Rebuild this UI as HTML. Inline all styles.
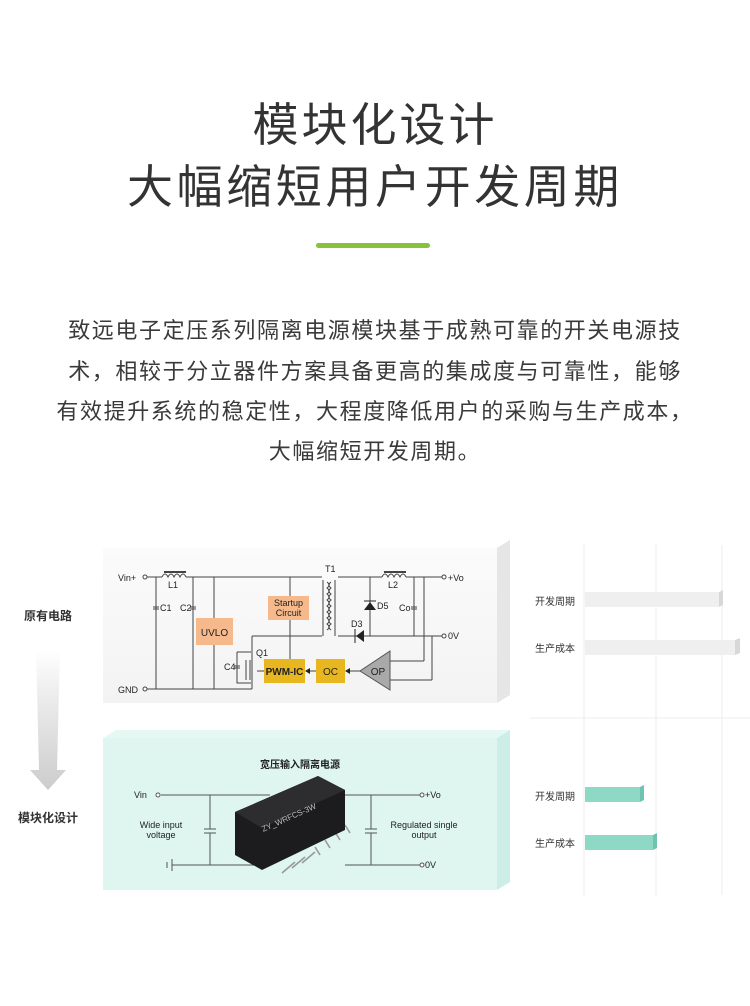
<!DOCTYPE html>
<html><head><meta charset="utf-8">
<style>
html,body{margin:0;padding:0;background:#fff;}
body{width:750px;height:1006px;position:relative;overflow:hidden;font-family:"Liberation Sans","Noto Sans CJK SC",sans-serif;color:#333;}
.t{position:absolute;left:0;width:750px;text-align:center;white-space:nowrap;}
.h{font-size:46px;letter-spacing:3px;color:#333;line-height:1;}
.p{font-size:22px;letter-spacing:1.6px;color:#3a3a3a;line-height:1;}
</style></head><body>
<div class="t h" style="top:102px;">模块化设计</div>
<div class="t h" style="top:164px;letter-spacing:3.6px;">大幅缩短用户开发周期</div>
<div style="position:absolute;left:316px;top:243px;width:114px;height:5px;border-radius:3px;background:#86c23a;"></div>
<div class="t p" style="top:320px;">致远电子定压系列隔离电源模块基于成熟可靠的开关电源技</div>
<div class="t p" style="top:361px;">术，相较于分立器件方案具备更高的集成度与可靠性，能够</div>
<div class="t p" style="top:401px;">有效提升系统的稳定性，大程度降低用户的采购与生产成本，</div>
<div class="t p" style="top:441px;">大幅缩短开发周期。</div>

<svg width="750" height="1006" style="position:absolute;left:0;top:0" xmlns="http://www.w3.org/2000/svg" font-family="Liberation Sans, Noto Sans CJK SC, sans-serif">
<defs>
<linearGradient id="ar" x1="0" y1="0" x2="0" y2="1"><stop offset="0" stop-color="#ffffff"/><stop offset="0.3" stop-color="#eeeeee"/><stop offset="1" stop-color="#cccccc"/></linearGradient>
<linearGradient id="g1" x1="0" y1="0" x2="0" y2="1"><stop offset="0" stop-color="#fbfbfb"/><stop offset="1" stop-color="#f3f3f3"/></linearGradient>
</defs>
<text x="48" y="620" font-size="12" font-weight="bold" fill="#333" text-anchor="middle">原有电路</text>
<path d="M36 650 L60 650 L57 770 L66 770 L48 790 L30 770 L39 770 Z" fill="url(#ar)"/>
<text x="48" y="822" font-size="12" font-weight="bold" fill="#333" text-anchor="middle">模块化设计</text>

<polygon points="103,548 497,548 510,540 510,695 497,703 103,703" fill="#eeeeee"/>
<rect x="103" y="548" width="394" height="155" fill="url(#g1)"/>
<polygon points="497,548 510,540 510,695 497,703" fill="#e6e6e6"/>
<g stroke="#444" stroke-width="1" fill="none">
<line x1="145" y1="577" x2="162" y2="577"/><path d="M162 577 q3-6 6 0 q3-6 6 0 q3-6 6 0 q3-6 6 0"/><line x1="186" y1="577" x2="322" y2="577"/>
<line x1="164" y1="572" x2="186" y2="572" stroke-width="2"/>
<line x1="145" y1="689" x2="252" y2="689"/>
<line x1="156" y1="577" x2="156" y2="689"/><line x1="193" y1="577" x2="193" y2="689"/><line x1="214" y1="577" x2="214" y2="689"/>
<line x1="290" y1="577" x2="290" y2="659"/>
<line x1="252" y1="636" x2="322" y2="636"/><line x1="252" y1="636" x2="252" y2="689"/>
<path d="M323 580 v56 M335 580 v56"/>
<path d="M327 582 q4 3 0 6 q4 3 0 6 q4 3 0 6 q4 3 0 6 q4 3 0 6 q4 3 0 6 q4 3 0 6 q4 3 0 6"/>
<path d="M331 582 q-4 3 0 6 q-4 3 0 6 q-4 3 0 6 q-4 3 0 6 q-4 3 0 6 q-4 3 0 6 q-4 3 0 6 q-4 3 0 6"/>
<line x1="338" y1="577" x2="382" y2="577"/><path d="M382 577 q3-6 6 0 q3-6 6 0 q3-6 6 0 q3-6 6 0"/><line x1="406" y1="577" x2="442" y2="577"/>
<line x1="384" y1="572" x2="406" y2="572" stroke-width="2"/>
<line x1="338" y1="636" x2="442" y2="636"/>
<line x1="370" y1="577" x2="370" y2="636"/><line x1="414" y1="577" x2="414" y2="636"/>
<line x1="424" y1="577" x2="424" y2="661"/><line x1="424" y1="661" x2="390" y2="661"/>
<line x1="432" y1="636" x2="432" y2="680"/><line x1="432" y1="680" x2="390" y2="680"/>
<line x1="360" y1="671" x2="347" y2="671"/>
<line x1="316" y1="671" x2="308" y2="671"/>
<path d="M237 652 v31 h14 M237 652 h14"/>
<line x1="257" y1="671" x2="264" y2="671"/>
<path d="M246 660 v20 M250 660 v20"/>
<circle cx="145" cy="577" r="2" fill="#fff"/><circle cx="145" cy="689" r="2" fill="#fff"/><circle cx="444" cy="577" r="2" fill="#fff"/><circle cx="444" cy="636" r="2" fill="#fff"/>
</g>
<path d="M364 610 h12 l-6 -8 z" fill="#222"/><line x1="364" y1="601" x2="376" y2="601" stroke="#222"/>
<path d="M356 636 l8 -6 v12 z" fill="#222"/><line x1="355" y1="629" x2="355" y2="643" stroke="#222"/>
<g stroke="#444"><line x1="153" y1="607" x2="159" y2="607"/><line x1="153" y1="609" x2="159" y2="609"/><line x1="190" y1="607" x2="196" y2="607"/><line x1="190" y1="609" x2="196" y2="609"/><line x1="411" y1="607" x2="417" y2="607"/><line x1="411" y1="609" x2="417" y2="609"/><line x1="234" y1="666" x2="240" y2="666"/><line x1="234" y1="668" x2="240" y2="668"/></g>
<rect x="196" y="618" width="37" height="27" fill="#f5b98c"/><text x="214.5" y="636" font-size="10" text-anchor="middle" fill="#222">UVLO</text>
<rect x="268" y="596" width="41" height="24" fill="#f5b98c"/><text x="288.5" y="606" font-size="9" text-anchor="middle" fill="#222">Startup</text><text x="288.5" y="616" font-size="9" text-anchor="middle" fill="#222">Circuit</text>
<rect x="264" y="659" width="41" height="24" fill="#e8b720"/><text x="284.5" y="675" font-size="10" font-weight="bold" text-anchor="middle" fill="#222">PWM-IC</text>
<rect x="316" y="659" width="29" height="24" fill="#e8b720"/><text x="330.5" y="675" font-size="10" text-anchor="middle" fill="#222">OC</text>
<polygon points="390,651 390,690 360,671" fill="#a9a9a9" stroke="#555"/><text x="378" y="675" font-size="10" text-anchor="middle" fill="#222">OP</text>
<path d="M305 671 l5 -3 v6 z M345 671 l5 -3 v6 z" fill="#222"/>
<g font-size="9" fill="#222">
<text x="118" y="581">Vin+</text><text x="118" y="693">GND</text><text x="448" y="581">+Vo</text><text x="448" y="639">0V</text>
<text x="168" y="588">L1</text><text x="388" y="588">L2</text><text x="325" y="572">T1</text>
<text x="160" y="611">C1</text><text x="180" y="611">C2</text><text x="399" y="611">Co</text>
<text x="377" y="609">D5</text><text x="351" y="627">D3</text><text x="256" y="656">Q1</text><text x="224" y="670">C4</text>
</g>

<rect x="103" y="738" width="394" height="152" fill="#def5f0"/>
<polygon points="497,738 510,730 510,882 497,890" fill="#cdeee7"/>
<polygon points="103,738 497,738 510,730 116,730" fill="#e6f8f4"/>
<text x="300" y="768" font-size="10" font-weight="bold" text-anchor="middle" fill="#222">宽压输入隔离电源</text>
<g stroke="#555" fill="none">
<line x1="161" y1="795" x2="270" y2="795"/><line x1="345" y1="795" x2="420" y2="795"/>
<line x1="172" y1="865" x2="270" y2="865"/><line x1="345" y1="865" x2="420" y2="865"/>
<line x1="210" y1="795" x2="210" y2="829"/><line x1="210" y1="833" x2="210" y2="865"/>
<line x1="204" y1="829" x2="216" y2="829"/><line x1="204" y1="833" x2="216" y2="833"/>
<line x1="371" y1="795" x2="371" y2="829"/><line x1="371" y1="833" x2="371" y2="865"/>
<line x1="365" y1="829" x2="377" y2="829"/><line x1="365" y1="833" x2="377" y2="833"/>
<line x1="172" y1="859" x2="172" y2="871"/><line x1="167" y1="862" x2="167" y2="868"/>
<circle cx="158" cy="795" r="2" fill="#fff"/><circle cx="422" cy="795" r="2" fill="#fff"/><circle cx="422" cy="865" r="2" fill="#fff"/>
</g>
<g stroke="#999" stroke-width="1.6"><line x1="295" y1="862" x2="282" y2="873"/><line x1="305" y1="857" x2="292" y2="868"/><line x1="315" y1="852" x2="302" y2="863"/><line x1="345" y1="825" x2="350" y2="833"/><line x1="335" y1="832" x2="340" y2="840"/><line x1="325" y1="840" x2="330" y2="848"/><line x1="315" y1="847" x2="320" y2="855"/></g>
<polygon points="235,812 318,776 345,790 345,830 262,870 235,855" fill="#1c1c1e"/>
<polygon points="235,812 318,776 345,790 262,828" fill="#2d2d30"/>
<text x="290" y="820" font-size="8" fill="#bbb" transform="rotate(-24 290 820)" text-anchor="middle">ZY_WRFCS-3W</text>
<g font-size="9" fill="#222">
<text x="134" y="798">Vin</text><text x="425" y="798">+Vo</text><text x="425" y="868">0V</text>
<text x="161" y="828" text-anchor="middle">Wide input</text><text x="161" y="838" text-anchor="middle">voltage</text>
<text x="424" y="828" text-anchor="middle">Regulated single</text><text x="424" y="838" text-anchor="middle">output</text>
</g>

<g stroke="#eeeeee"><line x1="584" y1="545" x2="584" y2="895"/><line x1="656" y1="545" x2="656" y2="895"/><line x1="722" y1="545" x2="722" y2="895"/><line x1="530" y1="718" x2="750" y2="718"/></g>
<rect x="585" y="592" width="134" height="15" fill="#efefef"/><polygon points="719,592 723,590 723,605 719,607" fill="#d8d8d8"/>
<rect x="585" y="640" width="150" height="15" fill="#efefef"/><polygon points="735,640 740,638 740,653 735,655" fill="#d8d8d8"/>
<rect x="585" y="787" width="55" height="15" fill="#8ed8c6"/><polygon points="640,787 644,785 644,800 640,802" fill="#6fc4b1"/>
<rect x="585" y="835" width="68" height="15" fill="#8ed8c6"/><polygon points="653,835 657,833 657,848 653,850" fill="#6fc4b1"/>
<g font-size="10" fill="#333"><text x="535" y="605">开发周期</text><text x="535" y="652">生产成本</text><text x="535" y="800">开发周期</text><text x="535" y="847">生产成本</text></g>
</svg>
</body></html>
